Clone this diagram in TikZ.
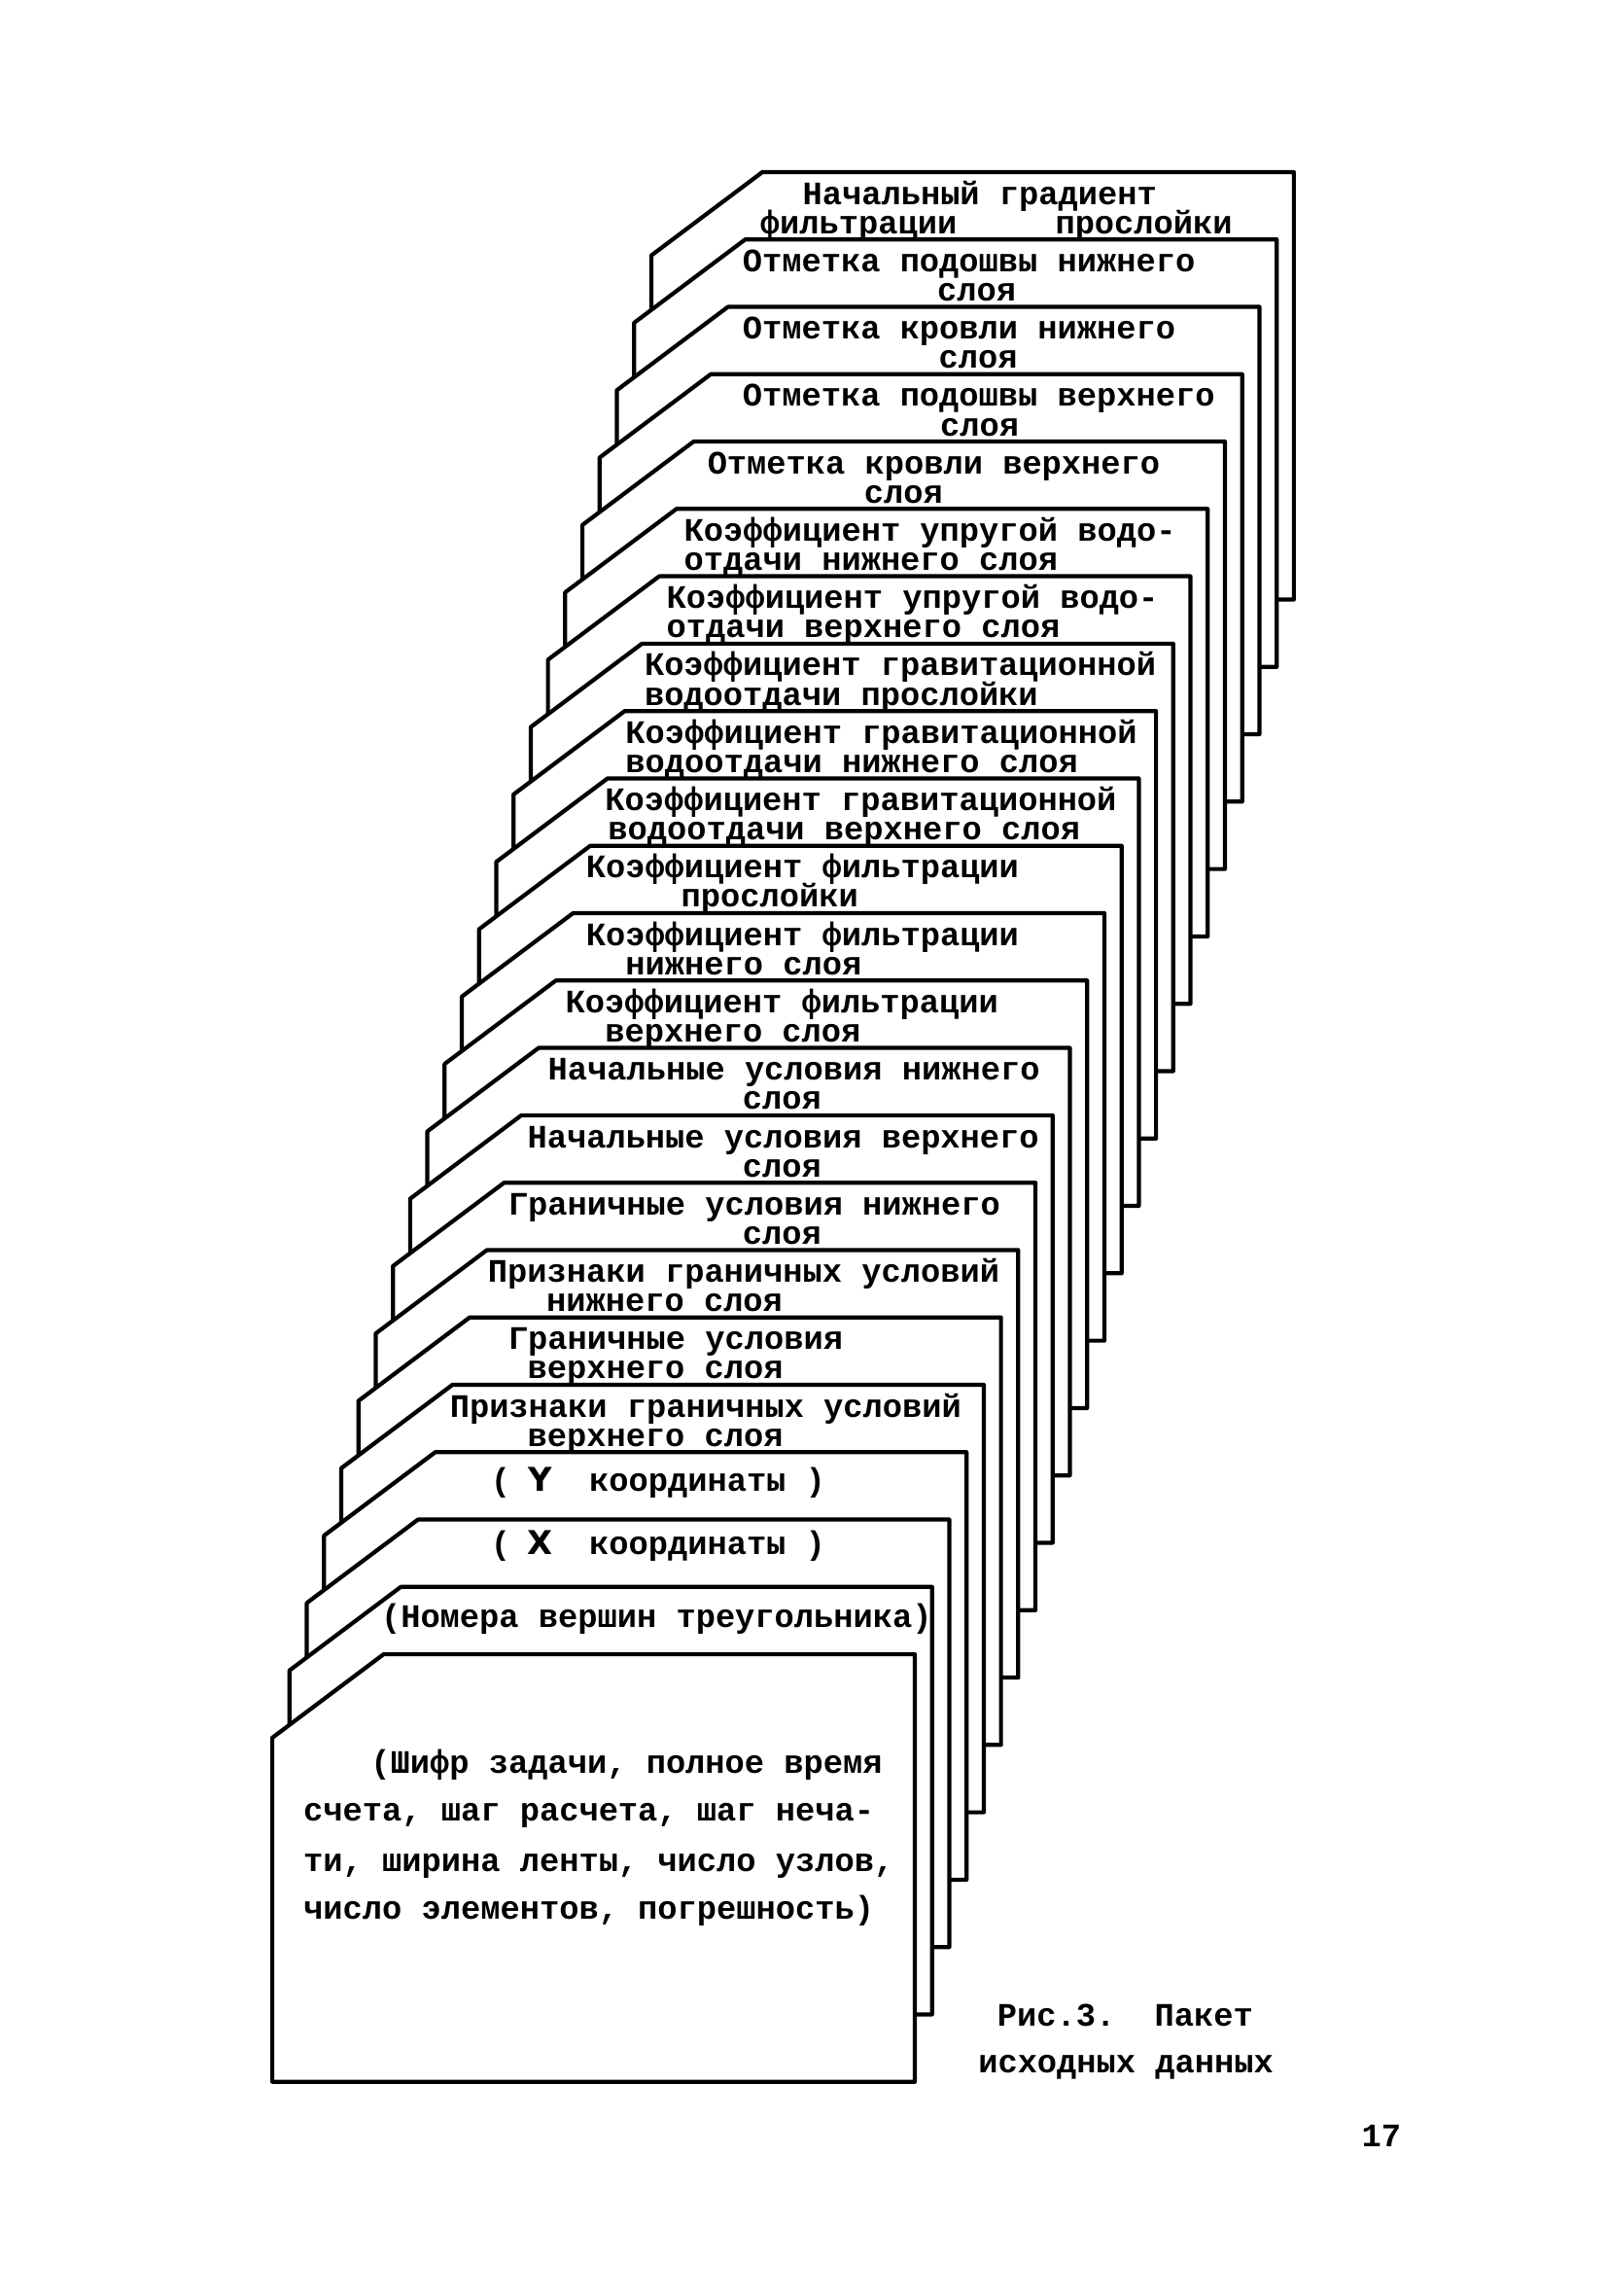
\documentclass[tikz,border=0pt]{standalone}
\usepackage{fontspec}
\newfontfamily\twfont{Liberation Mono}
\newfontfamily\letfont{DejaVu Sans}
\tikzset{
  cardline/.style={draw=black, line width=1.4pt, fill=white, line join=round},
  txt/.style={font=\twfont\bfseries\fontsize{11.2}{13}\selectfont, inner sep=0pt, anchor=base west},
}
\newcommand\drawcard[1]{%
  \pgfmathsetmacro\cardL{445-11.77*#1}%
  \pgfmathsetmacro\cardT{117.5+46.02*#1}%
  \draw[cardline] (\cardL,\cardT+57) -- (\cardL+76,\cardT) -- (\cardL+439,\cardT)
     -- (\cardL+439,\cardT+292) -- (\cardL,\cardT+292) -- cycle;}
\newcommand\axisletter[1]{\makebox[6.72pt]{\letfont\bfseries #1}}
\begin{document}
\begin{tikzpicture}[x=0.5pt,y=-0.5pt]
\useasboundingbox (0,0) rectangle (1098,1568.26);
\drawcard{0}
\node[txt] (c0a) at (548,139.5) {Начальный градиент};
\node[txt] (c0b) at (519,159.5) {фильтрации\ \ \ \ \ прослойки};
\drawcard{1}
\node[txt] (c1a) at (507,185.5) {Отметка подошвы нижнего};
\node[txt] (c1b) at (640,205.5) {слоя};
\drawcard{2}
\node[txt] (c2a) at (507,231.5) {Отметка кровли нижнего};
\node[txt] (c2b) at (641,251.5) {слоя};
\drawcard{3}
\node[txt] (c3a) at (507,277.6) {Отметка подошвы верхнего};
\node[txt] (c3b) at (642,297.6) {слоя};
\drawcard{4}
\node[txt] (c4a) at (483,323.6) {Отметка кровли верхнего};
\node[txt] (c4b) at (590,343.6) {слоя};
\drawcard{5}
\node[txt] (c5a) at (467,369.6) {Коэффициент упругой водо-};
\node[txt] (c5b) at (467,389.6) {отдачи нижнего слоя};
\drawcard{6}
\node[txt] (c6a) at (455,415.6) {Коэффициент упругой водо-};
\node[txt] (c6b) at (455,435.6) {отдачи верхнего слоя};
\drawcard{7}
\node[txt] (c7a) at (440,461.6) {Коэффициент гравитационной};
\node[txt] (c7b) at (440,481.6) {водоотдачи прослойки};
\drawcard{8}
\node[txt] (c8a) at (427,507.7) {Коэффициент гравитационной};
\node[txt] (c8b) at (427,527.7) {водоотдачи нижнего слоя};
\drawcard{9}
\node[txt] (c9a) at (413,553.7) {Коэффициент гравитационной};
\node[txt] (c9b) at (415,573.7) {водоотдачи верхнего слоя};
\drawcard{10}
\node[txt] (c10a) at (400,599.7) {Коэффициент фильтрации};
\node[txt] (c10b) at (465,619.7) {прослойки};
\drawcard{11}
\node[txt] (c11a) at (400,645.7) {Коэффициент фильтрации};
\node[txt] (c11b) at (427,665.7) {нижнего слоя};
\drawcard{12}
\node[txt] (c12a) at (386,691.7) {Коэффициент фильтрации};
\node[txt] (c12b) at (413,711.7) {верхнего слоя};
\drawcard{13}
\node[txt] (c13a) at (374,737.8) {Начальные условия нижнего};
\node[txt] (c13b) at (507,757.8) {слоя};
\drawcard{14}
\node[txt] (c14a) at (360,783.8) {Начальные условия верхнего};
\node[txt] (c14b) at (507,803.8) {слоя};
\drawcard{15}
\node[txt] (c15a) at (347,829.8) {Граничные условия нижнего};
\node[txt] (c15b) at (507,849.8) {слоя};
\drawcard{16}
\node[txt] (c16a) at (333,875.8) {Признаки граничных условий};
\node[txt] (c16b) at (373,895.8) {нижнего слоя};
\drawcard{17}
\node[txt] (c17a) at (347,921.8) {Граничные условия};
\node[txt] (c17b) at (360,941.8) {верхнего слоя};
\drawcard{18}
\node[txt] (c18a) at (307,967.9) {Признаки граничных условий};
\node[txt] (c18b) at (360,987.9) {верхнего слоя};
\drawcard{19}
\node[txt] (c19a) at (335,1018.9) {(\ \axisletter{Y}\ \ координаты\ )};
\drawcard{20}
\node[txt] (c20a) at (335,1061.9) {(\ \axisletter{X}\ \ координаты\ )};
\drawcard{21}
\node[txt] (c21a) at (260,1111.9) {(Номера вершин треугольника)};
\drawcard{22}
\node[txt] (c22a) at (253,1211) {(Шифр задачи, полное время};
\node[txt] (c22b) at (207,1244) {счета, шаг расчета, шаг неча-};
\node[txt] (c22c) at (207,1278) {ти, ширина ленты, число узлов,};
\node[txt] (c22d) at (207,1311) {число элементов, погрешность)};
\node[txt] (cap1) at (681,1384) {Рис.3.\ \ Пакет};
\node[txt] (cap2) at (668,1416) {исходных данных};
\node[txt] (pnum) at (930,1466) {17};
\end{tikzpicture}
\end{document}
